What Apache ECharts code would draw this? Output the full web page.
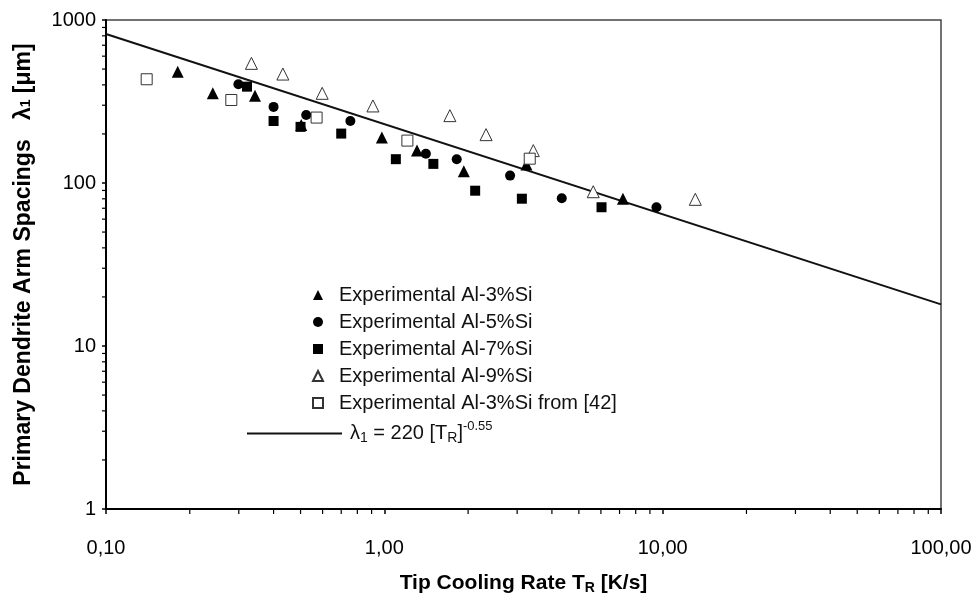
<!DOCTYPE html>
<html>
<head>
<meta charset="utf-8">
<script src="https://cdn.jsdelivr.net/npm/echarts@6/dist/echarts.min.js"></script>
<style>html,body{margin:0;padding:0;background:#fff}#c{width:979px;height:600px}</style>
</head>
<body>
<div id="c"></div>
<script>
// ---- data ----
var al3X = [0.181, 0.242, 0.343, 0.503, 0.98, 1.31, 1.93, 3.24, 7.2];
var al3Y = [482, 355, 343, 227, 190, 158, 118, 130, 80];
var al5X = [0.299, 0.40, 0.524, 0.755, 1.41, 1.82, 2.83, 4.34, 9.5];
var al5Y = [403, 293, 261, 240, 151, 140, 111, 80.6, 71];
var al7X = [0.321, 0.40, 0.50, 0.70, 1.10, 1.50, 2.12, 3.12, 6.03];
var al7Y = [390, 240, 221, 201, 140, 131, 89.7, 80.1, 71];
var al9X = [0.333, 0.432, 0.598, 0.91, 1.72, 2.32, 3.43, 5.63, 13.1];
var al9Y = [542, 466, 355, 297, 259, 198, 158, 88.4, 79.4];
var ref42X = [0.14, 0.282, 0.571, 1.21, 3.33];
var ref42Y = [433, 323, 252, 182, 141];
var fitX = [0.1, 100];
var fitY = [820, 18];

var xTickValues = [0.1, 1, 10, 100];
var xTickLabels = ['0,10', '1,00', '10,00', '100,00'];
var yTickValues = [1, 10, 100, 1000];
var yTickLabels = ['1', '10', '100', '1000'];
var xMinorTicks = [0.2,0.3,0.4,0.5,0.6,0.7,0.8,0.9,2,3,4,5,6,7,8,9,20,30,40,50,60,70,80,90];
var yMinorTicks = [2,3,4,5,6,7,8,9,20,30,40,50,60,70,80,90,200,300,400,500,600,700,800,900];

var seriesNames = ['Experimental Al-3%Si', 'Experimental Al-5%Si', 'Experimental Al-7%Si',
  'Experimental Al-9%Si', 'Experimental Al-3%Si from [42]'];
var fitName = 'fit';

function zip(a, b) { return a.map(function (v, i) { return [v, b[i]]; }); }
function lookup(vals, labels, v) {
  for (var i = 0; i < vals.length; i++) {
    if (Math.abs(Math.log10(v) - Math.log10(vals[i])) < 1e-6) return labels[i];
  }
  return '';
}

var FONT = "'Liberation Sans', Arial, sans-serif";
var chart = echarts.init(document.getElementById('c'));

var ticks = xMinorTicks.map(function (v) { return ['x', v]; })
  .concat(yMinorTicks.map(function (v) { return ['y', v]; }));

chart.setOption({
  animation: false,
  backgroundColor: '#fff',
  textStyle: { fontFamily: FONT },
  grid: { left: 106, right: 38, top: 20, bottom: 91, show: true, borderColor: '#444', borderWidth: 1.5, backgroundColor: 'transparent' },
  xAxis: {
    type: 'log', logBase: 10, min: 0.1, max: 100,
    axisLine: { lineStyle: { color: '#000', width: 2 } },
    axisTick: { show: true, length: 5, inside: false, lineStyle: { color: '#000', width: 1.5 } },
    splitLine: { show: false },
    axisLabel: { color: '#000', fontSize: 20, fontFamily: FONT, margin: 29,
      formatter: function (v) { return lookup(xTickValues, xTickLabels, v); } },
    name: '{b|Tip Cooling Rate T}{s|R}{b| [K/s]}',
    nameLocation: 'middle', nameGap: 63,
    nameTextStyle: { rich: {
      b: { fontSize: 21, fontWeight: 'bold', color: '#000', fontFamily: FONT },
      s: { fontSize: 14, fontWeight: 'bold', color: '#000', fontFamily: FONT, padding: [9, 0, 0, 0] }
    } }
  },
  yAxis: {
    type: 'log', logBase: 10, min: 1, max: 1000,
    axisLine: { lineStyle: { color: '#000', width: 2 } },
    axisTick: { show: true, length: 4, inside: false, lineStyle: { color: '#000', width: 1.5 } },
    splitLine: { show: false },
    axisLabel: { color: '#000', fontSize: 20, fontFamily: FONT, margin: 10,
      formatter: function (v) { return lookup(yTickValues, yTickLabels, v); } },
    name: '{b|Primary Dendrite Arm Spacings   λ}{s|1}{b| [μm]}',
    nameLocation: 'middle', nameGap: 71,
    nameTextStyle: { rich: {
      b: { fontSize: 23, fontWeight: 'bold', color: '#000', fontFamily: FONT },
      s: { fontSize: 14, fontWeight: 'bold', color: '#000', fontFamily: FONT, padding: [5, 0, 0, 0] }
    } }
  },
  legend: [{
    orient: 'vertical', left: 312, top: 285, padding: 0,
    itemWidth: 10, itemHeight: 10, itemGap: 7,
    textStyle: { fontSize: 20, color: '#111', fontFamily: FONT, lineHeight: 20, padding: [0, 0, 0, 11] },
    data: seriesNames
  }, {
    orient: 'vertical', left: 247, top: 420, padding: 0,
    itemWidth: 95, itemHeight: 2,
    data: [{ name: fitName, icon: 'rect', itemStyle: { color: '#111' } }],
    formatter: function () { return '{a|λ}{s|1}{a| = 220 [T}{s|R}{a|]}{p|-0.55}'; },
    textStyle: { padding: [0, 0, 0, 3], rich: {
      a: { fontSize: 20, color: '#111', fontFamily: FONT },
      s: { fontSize: 14, color: '#111', fontFamily: FONT, padding: [9, 0, 0, 0] },
      p: { fontSize: 13, color: '#111', fontFamily: FONT, padding: [0, 0, 14, 0] }
    } }
  }],
  series: [
    { name: fitName, type: 'line', data: zip(fitX, fitY), symbol: 'none', z: 1,
      lineStyle: { color: '#111', width: 2 }, itemStyle: { color: '#111' } },
    { name: seriesNames[0], type: 'scatter', symbol: 'triangle', symbolSize: 12, data: zip(al3X, al3Y),
      itemStyle: { color: '#000', opacity: 1 }, z: 3 },
    { name: seriesNames[1], type: 'scatter', symbol: 'circle', symbolSize: 10, data: zip(al5X, al5Y),
      itemStyle: { color: '#000', opacity: 1 }, z: 3 },
    { name: seriesNames[2], type: 'scatter', symbol: 'rect', symbolSize: 10, data: zip(al7X, al7Y),
      itemStyle: { color: '#000', opacity: 1 }, z: 3 },
    { name: seriesNames[3], type: 'scatter', symbol: 'triangle', symbolSize: 12, data: zip(al9X, al9Y),
      itemStyle: { color: '#fff', borderColor: '#333', borderWidth: 1, opacity: 1 }, z: 3 },
    { name: seriesNames[4], type: 'scatter', symbol: 'rect', symbolSize: 11, data: zip(ref42X, ref42Y),
      itemStyle: { color: '#fff', borderColor: '#333', borderWidth: 1, opacity: 1 }, z: 3 },
    { name: 'minorTicks', type: 'custom', clip: false, silent: true, z: 5,
      data: ticks.map(function (t) { return t[0] === 'x' ? [t[1], 1, 0] : [0.1, t[1], 1]; }),
      encode: { x: 0, y: 1 },
      renderItem: function (params, api) {
        var p = api.coord([api.value(0), api.value(1)]);
        var isY = api.value(2) === 1;
        var shape = isY ? { x1: p[0] - 4, y1: p[1], x2: p[0], y2: p[1] }
                        : { x1: p[0], y1: p[1], x2: p[0], y2: p[1] + 5 };
        return { type: 'line', shape: shape, style: { stroke: '#000', lineWidth: 1.2 } };
      }
    }
  ]
});
</script>
</body>
</html>
